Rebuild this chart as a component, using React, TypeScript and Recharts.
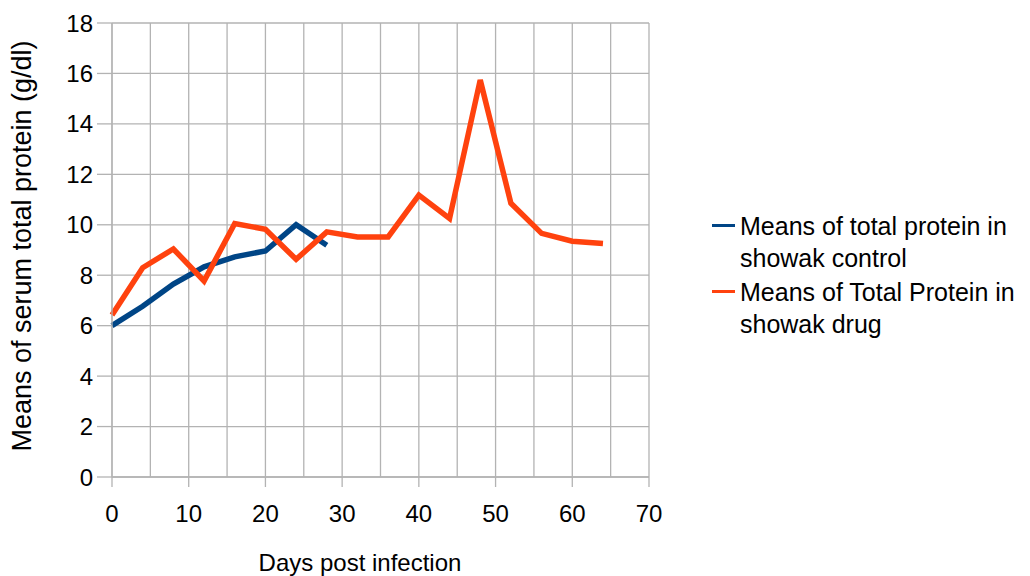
import React from 'react';
import { LineChart, Line, XAxis, YAxis, CartesianGrid, Legend } from 'recharts';

const days = [0, 4, 8, 12, 16, 20, 24, 28, 32, 36, 40, 44, 48, 52, 56, 60, 64];
const controlValues = [6.0, 6.77, 7.65, 8.33, 8.73, 8.96, 10.0, 9.19];
const drugValues = [6.42, 8.3, 9.04, 7.77, 10.05, 9.82, 8.63, 9.72, 9.52, 9.52, 11.18, 10.25, 15.74, 10.85, 9.66, 9.35, 9.26];
const xTicks = [0, 10, 20, 30, 40, 50, 60, 70];
const xGridTicks = [0, 5, 10, 15, 20, 25, 30, 35, 40, 45, 50, 55, 60, 65, 70];
const yTicks = [0, 2, 4, 6, 8, 10, 12, 14, 16, 18];

const controlName = 'Means of total protein in showak control';
const drugName = 'Means of Total Protein in showak drug';
const xTitle = 'Days post infection';
const yTitle = 'Means of serum total protein (g/dl)';

const data = days.map((d, i) => ({
  day: d,
  control: i < controlValues.length ? controlValues[i] : undefined,
  drug: drugValues[i],
}));

const FONT = '"Liberation Sans", Arial, sans-serif';
const GRID = '#b3b3b3';

const LegendContent = (props: any) => {
  const payload = props.payload || [];
  return (
    <div style={{ fontFamily: FONT, fontSize: 25, color: '#000', width: 318 }}>
      {payload.map((p: any, i: number) => (
        <div key={i} style={{ display: 'flex', alignItems: 'flex-start', lineHeight: '32px', marginBottom: 2 }}>
          <div style={{ width: 23, height: 3, background: p.color, marginTop: 14, marginRight: 5, flexShrink: 0 }} />
          <div style={{ width: 285 }}>{p.value}</div>
        </div>
      ))}
    </div>
  );
};

export default function App() {
  return (
    <div style={{ position: 'absolute', left: 0, top: 0, width: 1030, height: 576, background: '#fff' }}>
      <LineChart width={1030} height={576} data={data} margin={{ top: 23, right: 381, left: 0, bottom: 0 }}>
        <CartesianGrid stroke={GRID} strokeWidth={1.3} xAxisId="grid" />
        <XAxis
          xAxisId="grid"
          dataKey="day"
          type="number"
          domain={[0, 70]}
          ticks={xGridTicks}
          hide
        />
        <XAxis
          dataKey="day"
          type="number"
          domain={[0, 70]}
          ticks={xTicks}
          height={99}
          stroke={GRID}
          strokeWidth={1.3}
          tickSize={10}
          tickMargin={18}
          tick={{ fill: '#000', fontSize: 24, fontFamily: FONT }}
          label={{
            content: (lp: any) => {
              const vb = lp.viewBox || {};
              return (
                <text x={360} y={(vb.y || 0) + 94} textAnchor="middle" fontSize={24} fontFamily={FONT} fill="#000">
                  {xTitle}
                </text>
              );
            },
          }}
        />
        <YAxis
          type="number"
          domain={[0, 18]}
          ticks={yTicks}
          width={112}
          stroke={GRID}
          strokeWidth={1.3}
          tickSize={15}
          tickMargin={4}
          interval={0}
          tick={{ fill: '#000', fontSize: 24, fontFamily: FONT }}
          label={{
            content: (lp: any) => {
              const vb = lp.viewBox || {};
              const cy = (vb.y || 0) + (vb.height || 0) / 2 - 4;
              return (
                <text
                  x={22}
                  y={cy}
                  transform={`rotate(-90 22 ${cy})`}
                  textAnchor="middle"
                  dominantBaseline="central"
                  fontSize={27}
                  fontFamily={FONT}
                  fill="#000"
                >
                  {yTitle}
                </text>
              );
            },
          }}
        />
        <Legend
          layout="vertical"
          align="center"
          verticalAlign="middle"
          itemSorter="dataKey"
          wrapperStyle={{ position: 'absolute', left: 712, top: 210, width: 318 }}
          content={<LegendContent />}
        />
        <Line
          type="linear"
          dataKey="control"
          name={controlName}
          stroke="#004586"
          strokeWidth={5.5}
          dot={false}
          activeDot={false}
          isAnimationActive={false}
        />
        <Line
          type="linear"
          dataKey="drug"
          name={drugName}
          stroke="#ff420e"
          strokeWidth={5.5}
          dot={false}
          activeDot={false}
          isAnimationActive={false}
        />
      </LineChart>
    </div>
  );
}
